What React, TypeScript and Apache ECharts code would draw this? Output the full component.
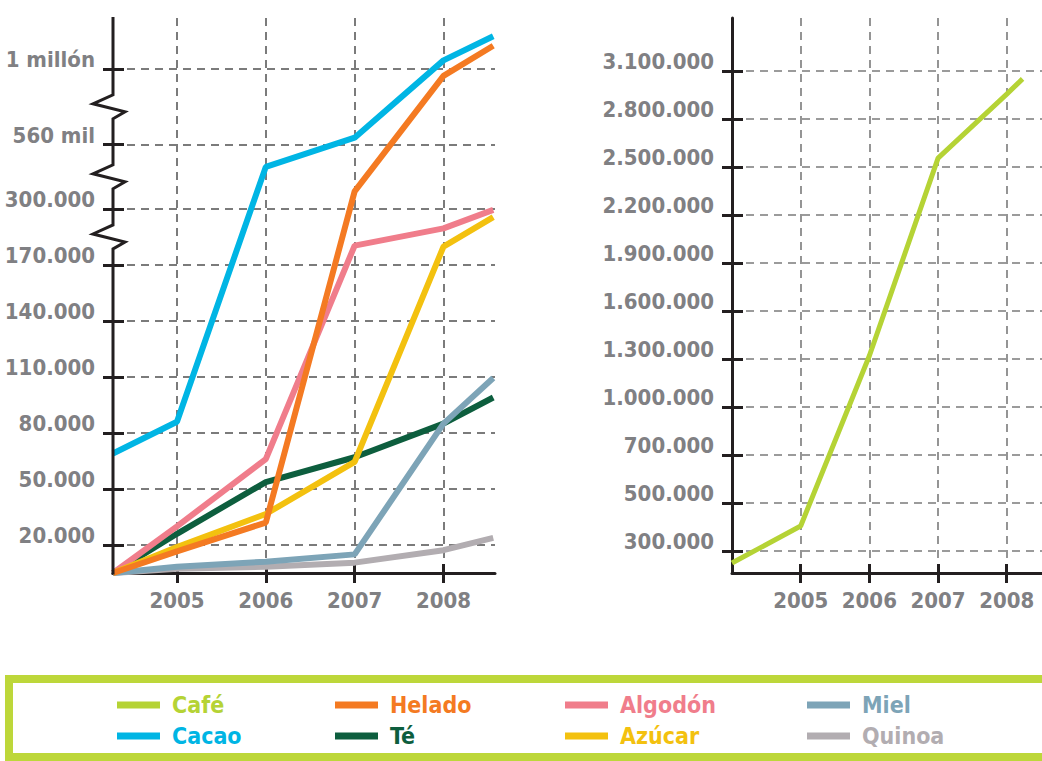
import React, { useEffect, useRef } from "react";
import * as echarts from "echarts";

// Years marked on both horizontal axes
const YEARS = [2005, 2006, 2007, 2008];

// Sampling positions of the lines (start at the axis, one per year, end at the right edge)
const LEFT_X = [2004.28, 2005, 2006, 2007, 2008, 2008.56];
const RIGHT_X = [2004, 2005, 2006, 2007, 2008, 2008.23];

// Series values
const CAFE = [245000, 404000, 1320000, 2555000, 2955000, 3050000];
const CACAO = [69000, 86000, 470000, 600000, 1050000, 1190000];
const HELADO = [0, 15500, 32000, 371000, 960000, 1135000];
const ALGODON = [0, 30000, 66000, 215000, 255000, 298000];
const AZUCAR = [0, 18500, 36600, 64500, 212500, 281000];
const TE = [0, 26000, 53700, 67000, 85000, 99000];
const MIEL = [0, 4400, 8100, 13300, 85000, 109500];
const QUINOA = [0, 3000, 4400, 7400, 16300, 23800];

// Left axis: broken scale
const LEFT_BASE = 0;
const LEFT_TICK_VALUES = [20000, 50000, 80000, 110000, 140000, 170000, 300000, 560000, 1000000];
const LEFT_TICK_LABELS = ["20.000", "50.000", "80.000", "110.000", "140.000", "170.000", "300.000", "560 mil", "1 millón"];
const LEFT_TICK_SLOTS = [0.5, 1.5, 2.5, 3.5, 4.5, 5.5, 6.5, 7.65, 9];
// Breaks in the axis sit between these tick pairs
const LEFT_BREAKS = [[170000, 300000], [300000, 560000], [560000, 1000000]];

// Right axis: evenly spaced ticks with uneven steps
const RIGHT_BASE = 200000;
const RIGHT_TICK_VALUES = [300000, 500000, 700000, 1000000, 1300000, 1600000, 1900000, 2200000, 2500000, 2800000, 3100000];
const RIGHT_TICK_SLOTS = RIGHT_TICK_VALUES.map((_, i) => 0.46 + i);

const COLORS: Record<string, string> = {
  "Café": "#b5d335",
  "Cacao": "#00b5e4",
  "Helado": "#f47a22",
  "Té": "#0d5e3e",
  "Algodón": "#f07d8b",
  "Azúcar": "#f3c10f",
  "Miel": "#7da4b7",
  "Quinoa": "#b2adb1",
};

const LEGEND_COLUMNS = [
  ["Café", "Cacao"],
  ["Helado", "Té"],
  ["Algodón", "Azúcar"],
  ["Miel", "Quinoa"],
];
const LEGEND_LEFT = [117, 335, 565, 807];

const FONT = "'DejaVu Sans Condensed', 'DejaVu Sans', sans-serif";
const INK = "#231f20";
const LABEL_GREY = "#808083";
const GRID_GREY = "#7b7b7b";

// Piecewise-linear mapping from a value to its axis slot
function makeScale(base: number, values: number[], slots: number[]) {
  const vs = [base, ...values];
  const ss = [0, ...slots];
  return (v: number) => {
    let i = 0;
    while (i < vs.length - 2 && v > vs[i + 1]) i++;
    const t = (v - vs[i]) / (vs[i + 1] - vs[i]);
    return ss[i] + t * (ss[i + 1] - ss[i]);
  };
}

const leftScale = makeScale(LEFT_BASE, LEFT_TICK_VALUES, LEFT_TICK_SLOTS);
const rightScale = makeScale(RIGHT_BASE, RIGHT_TICK_VALUES, RIGHT_TICK_SLOTS);

function dotted(v: number) {
  return String(Math.round(v)).replace(/\B(?=(\d{3})+(?!\d))/g, ".");
}

function labelAt(slots: number[], labels: string[], v: number) {
  const i = slots.findIndex((s) => Math.abs(s - v) < 1e-6);
  return i >= 0 ? labels[i] : "";
}

const axisFont = {
  fontFamily: FONT,
  fontSize: 22,
  fontWeight: "bold" as const,
  color: LABEL_GREY,
};

function xAxes(gridIndex: number, min: number, max: number, gridWidth: number) {
  const main = {
    type: "value",
    gridIndex,
    min,
    max,
    position: "bottom",
    axisLine: { show: true, onZero: false, lineStyle: { color: INK, width: 3 } },
    axisTick: { show: true, length: 10, customValues: YEARS, lineStyle: { color: INK, width: 3 } },
    axisLabel: {
      ...axisFont,
      customValues: YEARS,
      interval: 0,
      hideOverlap: false,
      margin: 17,
      lineHeight: 20,
      formatter: (v: number) => String(Math.round(v)),
    },
    splitLine: { show: true, lineStyle: { color: GRID_GREY, width: gridWidth, type: [8, 6] } },
  };
  const inner = {
    type: "value",
    gridIndex,
    min,
    max,
    position: "bottom",
    axisLine: { show: false, onZero: false },
    axisTick: { show: true, inside: true, length: 9, customValues: YEARS, lineStyle: { color: INK, width: 3 } },
    axisLabel: { show: false },
    splitLine: { show: false },
  };
  return [main, inner];
}

function yAxes(gridIndex: number, max: number, slots: number[], labels: string[], showLine: boolean, gridWidth: number) {
  const main = {
    type: "value",
    gridIndex,
    min: 0,
    max,
    position: "left",
    axisLine: { show: showLine, onZero: false, lineStyle: { color: INK, width: 3 } },
    axisTick: { show: true, length: 10, customValues: slots, lineStyle: { color: INK, width: 3 } },
    axisLabel: {
      ...axisFont,
      customValues: slots,
      interval: 0,
      hideOverlap: false,
      margin: 18,
      verticalAlign: "bottom",
      lineHeight: 18,
      formatter: (v: number) => labelAt(slots, labels, v),
    },
    splitLine: { show: true, lineStyle: { color: GRID_GREY, width: gridWidth, type: [8, 6] } },
  };
  const inner = {
    type: "value",
    gridIndex,
    min: 0,
    max,
    position: "left",
    axisLine: { show: false, onZero: false },
    axisTick: { show: true, inside: true, length: 11, customValues: slots, lineStyle: { color: INK, width: 3 } },
    axisLabel: { show: false },
    splitLine: { show: false },
  };
  return [main, inner];
}

function leftSeries(name: string, values: number[]) {
  return {
    name,
    type: "line",
    xAxisIndex: 0,
    yAxisIndex: 0,
    data: values.map((v, i) => [LEFT_X[i], leftScale(v)]),
    showSymbol: false,
    color: COLORS[name],
    lineStyle: { width: 6, color: COLORS[name] },
    silent: true,
  };
}

export default function App() {
  const ref = useRef<HTMLDivElement>(null);

  useEffect(() => {
    if (!ref.current) return;
    const chart = echarts.init(ref.current, undefined, { renderer: "svg" });

    const LEFT_MAX = 9.91;
    const RIGHT_MAX = 11.5625;

    chart.setOption({
      animation: false,
      backgroundColor: "#ffffff",
      grid: [
        { left: 113, top: 18, width: 382, height: 555, containLabel: false, outerBoundsMode: "none" },
        { left: 732, top: 18, width: 340, height: 555, containLabel: false, outerBoundsMode: "none" },
      ],
      xAxis: [
        ...xAxes(0, 2004.28, 2008.58, 2),
        ...xAxes(1, 2004, 2008.95, 1.6),
      ],
      yAxis: [
        ...yAxes(0, LEFT_MAX, LEFT_TICK_SLOTS, LEFT_TICK_LABELS, false, 2),
        ...yAxes(1, RIGHT_MAX, RIGHT_TICK_SLOTS, RIGHT_TICK_VALUES.map(dotted), true, 1.6),
      ],
      legend: LEGEND_COLUMNS.map((names, i) => ({
        orient: "vertical",
        left: LEGEND_LEFT[i],
        top: 692,
        height: 70,
        padding: 0,
        icon: "rect",
        itemWidth: 43,
        itemHeight: 7,
        itemGap: 5,
        selectedMode: false,
        data: names.map((n) => ({ name: n, textStyle: { color: COLORS[n] } })),
        textStyle: {
          fontFamily: FONT,
          fontSize: 23,
          fontWeight: "bold",
          lineHeight: 26,
          padding: [0, 0, 0, 7],
        },
      })),
      series: [
        leftSeries("Quinoa", QUINOA),
        leftSeries("Té", TE),
        leftSeries("Miel", MIEL),
        leftSeries("Algodón", ALGODON),
        leftSeries("Azúcar", AZUCAR),
        leftSeries("Helado", HELADO),
        leftSeries("Cacao", CACAO),
        {
          name: "Café",
          type: "line",
          xAxisIndex: 2,
          yAxisIndex: 2,
          data: CAFE.map((v, i) => [RIGHT_X[i], rightScale(v)]),
          showSymbol: false,
          color: COLORS["Café"],
          lineStyle: { width: 5, color: COLORS["Café"] },
          silent: true,
        },
      ],
    });

    // Left vertical axis, drawn with its break marks
    const px = (slot: number) => chart.convertToPixel({ gridIndex: 0 }, [2004.28, slot]) as number[];
    const top = px(LEFT_MAX);
    const bottom = px(0);
    const axisX = top[0];
    const breakCenters = LEFT_BREAKS.map(([a, b]) => px((leftScale(a) + leftScale(b)) / 2)[1]).sort((p, q) => p - q);
    const pts: number[][] = [[axisX, top[1] - 1]];
    breakCenters.forEach((yc) => {
      pts.push([axisX, yc - 12], [axisX - 20, yc - 3], [axisX + 12, yc + 5], [axisX, yc + 12]);
    });
    pts.push([axisX, bottom[1] + 1.5]);

    chart.setOption({
      graphic: [
        {
          type: "polyline",
          z: 50,
          shape: { points: pts },
          style: { stroke: INK, lineWidth: 3, fill: null, lineJoin: "miter" },
          silent: true,
        },
        {
          type: "rect",
          z: 0,
          shape: { x: 9, y: 679, width: 1100, height: 78 },
          style: { stroke: "#bdd73a", lineWidth: 8, fill: "#ffffff" },
          silent: true,
        },
      ],
    });

    return () => chart.dispose();
  }, []);

  return (
    <div
      ref={ref}
      style={{ position: "absolute", left: 0, top: 0, width: 1042, height: 761, background: "#fff" }}
    />
  );
}
